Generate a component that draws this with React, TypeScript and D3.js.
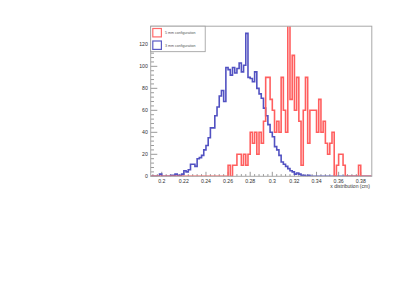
import { useEffect, useRef } from 'react';
import * as d3 from 'd3';

// 100 bins of 0.002 cm from 0.19 to 0.39
const binStart = 0.19;
const binWidth = 0.002;

// 3 mm configuration (blue)
const blueCounts = [
  0, 0, 0, 0, 2, 0, 0, 0, 0, 1,
  1, 2, 1, 1, 2, 5, 4, 6, 11, 11,
  9, 16, 17, 19, 24, 28, 35, 44, 44, 55,
  63, 73, 78, 68, 99, 97, 92, 99, 94, 98,
  103, 95, 101, 130, 90, 89, 86, 95, 80, 75,
  71, 62, 55, 47, 40, 36, 27, 24, 19, 13,
  11, 9, 7, 5, 4, 2, 3, 2, 1, 1,
  0, 1, 0, 0, 0, 0, 0, 0, 0, 0,
  0, 0, 0, 0, 0, 0, 0, 0, 0, 0,
  0, 0, 0, 0, 0, 0, 0, 0, 0, 0,
];

// 5 mm configuration (red)
const redCounts = [
  0, 0, 0, 0, 0, 0, 0, 0, 0, 0,
  0, 0, 0, 0, 0, 0, 0, 0, 0, 0,
  0, 0, 0, 0, 0, 0, 0, 0, 0, 0,
  0, 0, 0, 0, 0, 10, 0, 10, 10, 20,
  20, 10, 20, 10, 20, 40, 30, 40, 20, 40,
  30, 50, 90, 90, 70, 60, 40, 50, 40, 90,
  60, 40, 140, 70, 110, 60, 90, 50, 10, 60,
  90, 30, 60, 60, 60, 40, 70, 40, 50, 30,
  20, 30, 40, 0, 10, 20, 20, 10, 0, 0,
  0, 0, 0, 0, 10, 0, 0, 0, 0, 0,
];

const xTicks = [0.2, 0.22, 0.24, 0.26, 0.28, 0.3, 0.32, 0.34, 0.36, 0.38];
const yTicks = [0, 20, 40, 60, 80, 100, 120];
const legendLabels = ['5 mm configuration', '3 mm configuration'];
const xTitle = 'x distribution (cm)';

export default function App() {
  const svgRef = useRef<SVGSVGElement>(null);

  useEffect(() => {
    if (!svgRef.current) return;
    const width = 406;
    const height = 287;
    const left = 150.7;
    const right = 371.8;
    const top = 26.2;
    const bottom = 176.3;

    const svg = d3.select(svgRef.current);
    svg.selectAll('*').remove();

    const x = d3.scaleLinear().domain([0.19, 0.39]).range([left, right]);
    const y = d3.scaleLinear().domain([0, 136.5]).range([bottom, top]);

    svg.append('rect').attr('width', width).attr('height', height).attr('fill', '#fff');

    const defs = svg.append('defs');
    defs.append('clipPath').attr('id', 'frame-clip')
      .append('rect')
      .attr('x', left).attr('y', top)
      .attr('width', right - left).attr('height', bottom - top);

    const font = 'Liberation Sans, Arial, sans-serif';
    const axisColor = '#555';

    // ticks on y axis
    const yMinor = d3.range(0, 137, 4);
    svg.append('g').selectAll('line')
      .data(yMinor)
      .enter().append('line')
      .attr('x1', left)
      .attr('x2', d => left + (d % 20 === 0 ? 6.6 : 3.3))
      .attr('y1', d => y(d))
      .attr('y2', d => y(d))
      .attr('stroke', axisColor)
      .attr('stroke-width', 0.6);

    svg.append('g').selectAll('text')
      .data(yTicks)
      .enter().append('text')
      .attr('x', 147.8)
      .attr('y', d => y(d) + 1.8)
      .attr('text-anchor', 'end')
      .attr('font-family', font)
      .attr('font-size', 5.2)
      .attr('fill', '#333')
      .text(d => d);

    // ticks on x axis
    const xMinor = d3.range(0, 48).map(i => 0.192 + i * 0.004);
    svg.append('g').selectAll('line')
      .data(xMinor)
      .enter().append('line')
      .attr('x1', d => x(d))
      .attr('x2', d => x(d))
      .attr('y1', bottom)
      .attr('y2', d => bottom - (Math.abs(Math.round(d * 50) - d * 50) < 1e-6 ? 4.5 : 2.2))
      .attr('stroke', axisColor)
      .attr('stroke-width', 0.6);

    svg.append('g').selectAll('text')
      .data(xTicks)
      .enter().append('text')
      .attr('x', d => x(d))
      .attr('y', 182.8)
      .attr('text-anchor', 'middle')
      .attr('font-family', font)
      .attr('font-size', 5.2)
      .attr('fill', '#333')
      .text(d => String(d));

    svg.append('text')
      .attr('x', right - 2)
      .attr('y', 187.5)
      .attr('text-anchor', 'end')
      .attr('font-family', font)
      .attr('font-size', 5)
      .attr('fill', '#333')
      .text(xTitle);

    // histograms
    const stepPoints = (counts: number[]) => {
      const pts: [number, number][] = [[binStart, 0]];
      counts.forEach((c, i) => {
        pts.push([binStart + i * binWidth, c]);
        pts.push([binStart + (i + 1) * binWidth, c]);
      });
      pts.push([binStart + counts.length * binWidth, 0]);
      return pts;
    };
    const line = d3.line<[number, number]>().x(d => x(d[0])).y(d => y(d[1]));

    const plot = svg.append('g').attr('clip-path', 'url(#frame-clip)');
    plot.append('path')
      .attr('d', line(stepPoints(blueCounts)))
      .attr('fill', 'none')
      .attr('stroke', '#5252c2')
      .attr('stroke-width', 1.6);
    plot.append('path')
      .attr('d', line(stepPoints(redCounts)))
      .attr('fill', 'none')
      .attr('stroke', '#ff5f5f')
      .attr('stroke-width', 1.6);

    // frame
    svg.append('rect')
      .attr('x', left).attr('y', top)
      .attr('width', right - left).attr('height', bottom - top)
      .attr('fill', 'none')
      .attr('stroke', '#a8a8a8')
      .attr('stroke-width', 1);

    // legend
    const legend = svg.append('g');
    legend.append('rect')
      .attr('x', 150.7).attr('y', 26.2)
      .attr('width', 54.5).attr('height', 25.5)
      .attr('fill', '#fff')
      .attr('stroke', '#999')
      .attr('stroke-width', 0.8);
    const legendColors = ['#ff6b6b', '#5a5ac4'];
    legendLabels.forEach((label, i) => {
      const ly = 28.5 + i * 12.5;
      legend.append('rect')
        .attr('x', 152.8).attr('y', ly)
        .attr('width', 8.6).attr('height', 8.4)
        .attr('fill', '#fff')
        .attr('stroke', legendColors[i])
        .attr('stroke-width', 1.2);
      legend.append('text')
        .attr('x', 165)
        .attr('y', ly + 5.5)
        .attr('font-family', font)
        .attr('font-size', 3.6)
        .attr('fill', '#555')
        .text(label);
    });
  }, []);

  return (
    <svg
      ref={svgRef}
      width={406}
      height={287}
      style={{ position: 'absolute', left: 0, top: 0 }}
    />
  );
}
